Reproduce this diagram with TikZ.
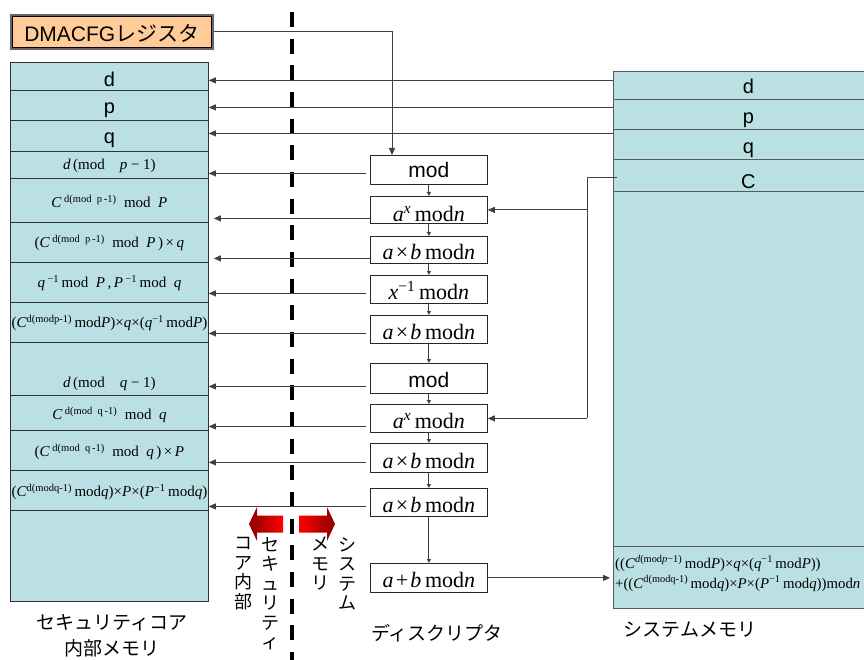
\documentclass[tikz,border=0pt]{standalone}
\usepackage{fontspec}
\setmainfont{Liberation Serif}
\newfontfamily\arialf{Liberation Sans}
\newfontfamily\jpf{Noto Sans CJK JP}
\usetikzlibrary{arrows.meta,calc}
\definecolor{cellblue}{HTML}{BBE0E3}
\definecolor{regorange}{HTML}{FFCC99}
\definecolor{linec}{HTML}{404040}
\newcommand\sps[1]{\textsuperscript{#1}}
\newcommand\fsz[1]{\fontsize{#1}{#1}\selectfont}
\begin{document}
\begin{tikzpicture}[x=1pt,y=-1pt,
  cell/.style={draw=black!80, fill=cellblue, line width=0.8pt, inner sep=0pt, anchor=north west, minimum width=198pt, font=\fsz{15}},
  rcell/.style={draw=black!65, fill=cellblue, line width=0.8pt, inner sep=0pt, anchor=north west, minimum width=270pt, font=\arialf\fsz{20}},
  mbox/.style={draw=black!85, fill=white, line width=0.8pt, inner sep=0pt, anchor=north west, minimum width=117pt, font=\fsz{22}},
  conn/.style={draw=linec, line width=0.9pt},
  arr/.style={conn, -{Triangle[length=7pt,width=6pt]}},
  sarr/.style={conn, -{Triangle[length=4pt,width=4pt]}},
  jp/.style={font=\jpf\fontsize{19}{26}\selectfont, align=center, inner sep=0pt},
  vjp/.style={font=\jpf\fontsize{18}{19.5}\selectfont, align=center, anchor=north, inner sep=0pt},
  dashline/.style={line width=4pt, dash pattern=on 15pt off 11.67pt},
]
\useasboundingbox (0,0) rectangle (864,660);

% dashed border line
\draw[dashline] (292,12) -- (292,662);

% register box
\node[draw=black!60, line width=1.6pt, fill=regorange, inner sep=0pt, anchor=north west,
      minimum width=202pt, text height=27pt, text depth=7pt, font=\fsz{21}] (dmacfg) at (10,14)
      {{\arialf DMACFG}{\jpf レジスタ}};
\draw[black, line width=0.6pt] ($(dmacfg.north west)+(2.5,2.5)$) rectangle ($(dmacfg.south east)+(-2.5,-2.5)$);

% security core memory (left column)
\node[cell, text height=24pt, text depth=4pt, font=\arialf\fsz{20}] (l1) at (10,62) {d};
\node[cell, text height=23pt, text depth=7pt, font=\arialf\fsz{20}] (l2) at (10,90) {p};
\node[cell, text height=23pt, text depth=8pt, font=\arialf\fsz{20}] (l3) at (10,120) {q};
\node[cell, text height=18pt, text depth=9pt] (l4) at (10,151) {\textit{d}\,(mod\quad\textit{p} − 1)};
\node[cell, text height=29pt, text depth=15pt] (l5) at (10,178) {\textit{C}\,\sps{d(mod\enspace p\,-1)}\enspace mod\enspace\textit{P}};
\node[cell, text height=25pt, text depth=15pt] (l6) at (10,222) {(\textit{C}\,\sps{d(mod\enspace p\,-1)}\enspace mod\enspace\textit{P}\,)\,×\,\textit{q}};
\node[cell, text height=25pt, text depth=15pt] (l7) at (10,262) {\textit{q}\,\sps{−1}\,mod\enspace\textit{P}\,,\,\textit{P}\,\sps{−1}\,mod\enspace\textit{q}};
\node[cell, text height=25pt, text depth=15pt] (l8) at (10,302) {(\textit{C}\sps{d(modp-1)}\,mod\textit{P})×\textit{q}×(\textit{q}\sps{−1}\,mod\textit{P})};
\node[cell, text height=45pt, text depth=8pt] (l9) at (10,342) {\textit{d}\,(mod\quad\textit{q} − 1)};
\node[cell, text height=24pt, text depth=11pt] (l10) at (10,395) {\textit{C}\,\sps{d(mod\enspace q\,-1)}\enspace mod\enspace\textit{q}};
\node[cell, text height=26pt, text depth=14pt] (l11) at (10,430) {(\textit{C}\,\sps{d(mod\enspace q\,-1)}\enspace mod\enspace\textit{q}\,)\,×\,\textit{P}};
\node[cell, text height=26pt, text depth=14pt] (l12) at (10,470) {(\textit{C}\sps{d(modq-1)}\,mod\textit{q})×\textit{P}×(\textit{P}\sps{−1}\,mod\textit{q})};
\node[cell, minimum height=91pt] (l13) at (10,510) {};
\node[jp] (lname) at (112,636) {セキュリティコア\\内部メモリ};

% system memory (right column)
\node[rcell, text height=22pt, text depth=6pt] (r1) at (613,71) {d\hspace{30pt}};
\node[rcell, text height=24pt, text depth=6pt] (r2) at (613,99) {p\hspace{30pt}};
\node[rcell, text height=24pt, text depth=6pt] (r3) at (613,129) {q\hspace{30pt}};
\node[rcell, text height=29pt, text depth=3pt] (r4) at (613,159) {C\hspace{30pt}};
\node[rcell, minimum height=355pt] (r5) at (613,191) {};
\node[rcell, minimum height=62pt] (r6) at (613,546) {};
\node[anchor=base west, inner sep=0pt, font=\fsz{14.8}] (rf1) at (615,568)
  {((\textit{C}\sps{\textit{d}(mod\textit{p}−1)}\,mod\textit{P})×\textit{q}×(\textit{q}\sps{−1}\,mod\textit{P}))};
\node[anchor=base west, inner sep=0pt, font=\fsz{14.8}] (rf2) at (615,588)
  {+((\textit{C}\sps{d(modq-1)}\,mod\textit{q})×\textit{P}×(\textit{P}\sps{−1}\,mod\textit{q}))mod\textit{n}};
\node[jp] (rname) at (690,630) {システムメモリ};

% descriptor (middle boxes)
\node[mbox, text height=22pt, text depth=7pt, font=\arialf\fsz{21}] (m1) at (370,155) {mod};
\node[mbox, text height=25pt, text depth=2pt] (m2) at (370,196) {\textit{a}\sps{\textit{x}}\,mod\textit{n}};
\node[mbox, text height=23pt, text depth=4pt] (m3) at (370,236) {\textit{a}\hspace{0.1em}×\hspace{0.1em}\textit{b}\,mod\textit{n}};
\node[mbox, text height=24pt, text depth=4pt] (m4) at (370,275) {\textit{x}\sps{−1}\,mod\textit{n}};
\node[mbox, text height=24pt, text depth=4pt] (m5) at (370,315) {\textit{a}\hspace{0.1em}×\hspace{0.1em}\textit{b}\,mod\textit{n}};
\node[mbox, text height=24pt, text depth=6pt, font=\arialf\fsz{21}] (m6) at (370,363) {mod};
\node[mbox, text height=24pt, text depth=4pt] (m7) at (370,404) {\textit{a}\sps{\textit{x}}\,mod\textit{n}};
\node[mbox, text height=25pt, text depth=4pt] (m8) at (370,443) {\textit{a}\hspace{0.1em}×\hspace{0.1em}\textit{b}\,mod\textit{n}};
\node[mbox, text height=24pt, text depth=4pt] (m9) at (370,488) {\textit{a}\hspace{0.1em}×\hspace{0.1em}\textit{b}\,mod\textit{n}};
\node[mbox, text height=24pt, text depth=5pt] (m10) at (370,563) {\textit{a}\hspace{0.1em}+\hspace{0.1em}\textit{b}\,mod\textit{n}};
\node[jp] (mname) at (437,633) {ディスクリプタ};

% vertical labels around the boundary
\node[vjp] (vsec1) at (270,537) {セ\\キ\\ュ\\リ\\テ\\ィ};
\node[vjp] (vsec2) at (243,537) {コ\\ア\\内\\部};
\node[vjp] (vsys1) at (347,537) {シ\\ス\\テ\\ム};
\node[vjp] (vsys2) at (320,537) {メ\\モ\\リ};

% red direction arrows
\shade[left color=red!55!black, right color=red] (249,524) -- (257,507) -- (257,515.5) -- (283,515.5) -- (283,532.5) -- (257,532.5) -- (257,541) -- cycle;
\shade[left color=red, right color=red!55!black] (299,515.5) -- (327,515.5) -- (327,507) -- (335,524) -- (327,541) -- (327,532.5) -- (299,532.5) -- cycle;

% register to first mod
\coordinate (dmin) at ($(m1.north west)+(22,0)$);
\draw[arr] (dmacfg.east) -| (dmin);

% system memory to security core
\foreach \r/\dy in {r1/-5, r2/-7, r3/-11} {
  \coordinate (s\r) at ($(\r.west)+(0,\dy)$);
  \draw[arr] (s\r) -- (s\r -| l1.east);
}

% descriptor results to security core
\foreach \b/\dy/\gs/\ge in {m1/3.5/4/0, m2/8.5/0/5, m3/8.5/0/5, m4/4/4/0, m5/4/4/0, m6/8/4/0, m7/8/4/0, m8/4.5/4/0, m9/4/4/0} {
  \coordinate (s\b) at ($(\b.west)+(0,\dy)$);
  \draw[arr, shorten <=\gs pt, shorten >=\ge pt] (s\b) -- (s\b -| l1.east);
}

% chain inside descriptor
\foreach \a/\b in {m1/m2, m2/m3, m3/m4, m4/m5, m5/m6, m6/m7, m7/m8, m8/m9, m9/m10}
  \draw[sarr] (\a.south) -- (\b.north);

% C to exponentiation boxes
\coordinate (cc) at ($(r4.west)+(4,2)$);
\coordinate (cj) at ($(r4.west)+(-26,2)$);
\draw[conn] (cc) -- (cj) -- (cj |- m7.east);
\draw[arr] (cj |- m2.east) -- (m2.east);
\draw[arr] (cj |- m7.east) -- (m7.east);

% final result to system memory
\draw[arr, shorten >=3pt] (m10.east) -- (m10.east -| r6.west);
\end{tikzpicture}
\end{document}
